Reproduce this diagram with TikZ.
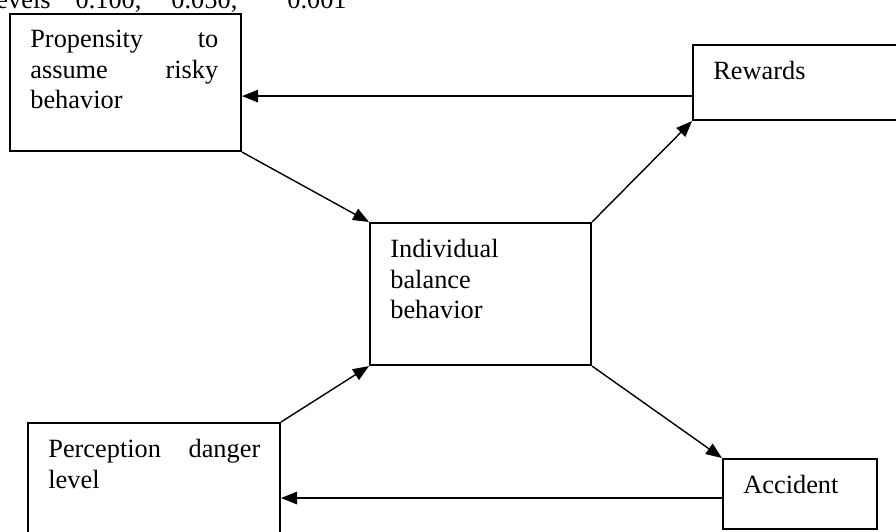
\documentclass[tikz,border=0pt]{standalone}
\usepackage{fontspec}
\setmainfont{Liberation Serif}
\usetikzlibrary{arrows.meta}
\begin{document}
\begin{tikzpicture}[x=0.02cm,y=-0.02cm,
  blk/.style={draw,line width=1.2pt,anchor=north west,inner sep=0pt},
  txt/.style={anchor=north west,inner sep=0pt,xshift=0.42cm,yshift=-0.34cm,align=left,font=\fontsize{15}{17.4}\selectfont},
  arr/.style={line width=0.8pt,-{Triangle[length=0.32cm,width=0.25cm]}}]
\useasboundingbox (0,0) rectangle (896,531);

\node[anchor=base east,inner sep=0pt,font=\fontsize{15}{17.4}\selectfont] (lev) at (347,8) {levels\hspace{0.5cm}0.100,\hspace{0.6cm}0.050,\hspace{1cm}0.001};

\node[blk,minimum width=4.62cm,minimum height=2.74cm,label={[txt,text width=3.76cm]north west:{Propensity\hfill to\\assume\hfill risky\\behavior}}] (prop) at (9,13) {};
\node[blk,minimum width=4.2cm,minimum height=1.5cm,label={[txt]north west:{Rewards}}] (rew) at (692,44) {};
\node[blk,minimum width=4.42cm,minimum height=2.84cm,label={[txt]north west:{Individual\\balance\\behavior}}] (ind) at (369,222) {};
\node[blk,minimum width=5.04cm,minimum height=2.3cm,label={[txt,text width=4.24cm]north west:{Perception\hfill danger\\level}}] (per) at (27,422) {};
\node[blk,minimum width=3.08cm,minimum height=1.4cm,label={[txt]north west:{Accident}}] (acc) at (722,458) {};

\coordinate (r1) at ([yshift=0.5cm]rew.south west);
\draw[arr] (r1) -- (prop.east |- r1);
\draw[arr] (prop.south east) -- (ind.north west);
\draw[arr] (ind.north east) -- (rew.south west);
\draw[arr] (per.north east) -- (ind.south west);
\draw[arr] (ind.south east) -- (acc.north west);
\coordinate (a1) at ([yshift=-0.08cm]acc.west);
\draw[arr] (a1) -- (per.east |- a1);
\end{tikzpicture}
\end{document}
